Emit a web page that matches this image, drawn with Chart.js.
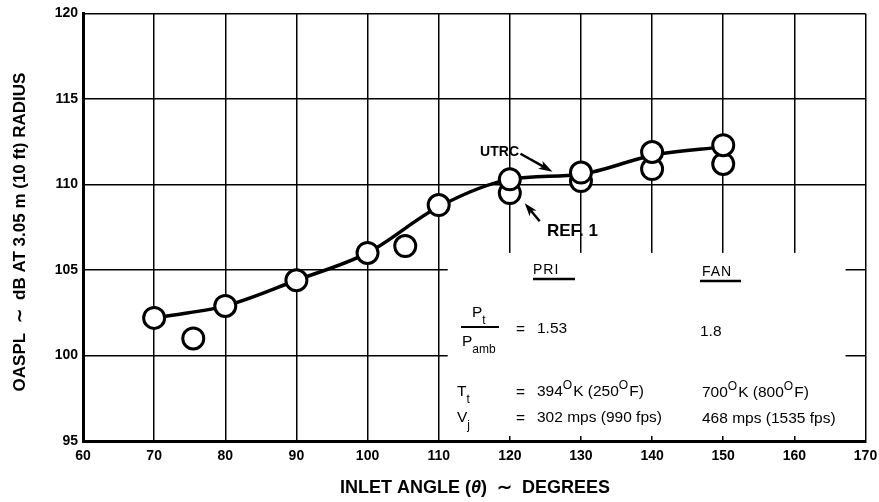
<!DOCTYPE html>
<html>
<head>
<meta charset="utf-8">
<script src="https://cdn.jsdelivr.net/npm/chart.js@4.4.1/dist/chart.umd.min.js"></script>
<style>
html, body { margin: 0; padding: 0; background: #fff; }
canvas { display: block; }
</style>
</head>
<body>
<canvas id="grafico" width="879" height="502"></canvas>
<script>
// curva trazada a mano por los puntos
const curvaAngulos = [70, 80, 90, 100, 110, 120, 130, 140, 150];
const curvaOaspl = [102.2, 102.9, 104.4, 106.0, 108.7, 110.3, 110.6, 111.7, 112.2];

// puntos UTRC
const utrcAngulos = [70, 80, 90, 100, 110, 120, 130, 140, 150];
const utrcOaspl = [102.2, 102.9, 104.4, 106.0, 108.8, 110.3, 110.7, 111.9, 112.3];

// puntos REF. 1
const refAngulos = [75.5, 105.3, 120, 130, 140, 150];
const refOaspl = [101.0, 106.4, 109.5, 110.2, 110.9, 111.2];

const xMin = 60, xMax = 170, xPaso = 10;
const yMin = 95, yMax = 120, yPaso = 5;

const FUENTE = '"Liberation Sans", Arial, Helvetica, sans-serif';

function puntos(xs, ys) {
    return xs.map((v, i) => ({ x: v, y: ys[i] }));
}

// texto con subindices y superindices
function textoRico(ctx, partes, x, y, tam) {
    let cx = x;
    partes.forEach(([t, modo]) => {
        const size = modo ? Math.round(tam * 0.8) : tam;
        ctx.font = `${size}px ${FUENTE}`;
        let dy = 0;
        if (modo === 'sub') dy = tam * 0.5;
        if (modo === 'sup') dy = -tam * 0.42;
        ctx.fillText(t, cx, y + dy);
        cx += ctx.measureText(t).width + (modo ? 1 : 0);
    });
}

function flecha(ctx, x0, y0, x1, y1, grosor, largo, ancho) {
    const ang = Math.atan2(y1 - y0, x1 - x0);
    const c = Math.cos(ang), s = Math.sin(ang);
    ctx.lineWidth = grosor;
    ctx.beginPath();
    ctx.moveTo(x0, y0);
    ctx.lineTo(x1 - c * largo * 0.7, y1 - s * largo * 0.7);
    ctx.stroke();
    ctx.beginPath();
    ctx.moveTo(x1, y1);
    ctx.lineTo(x1 - largo * c + ancho / 2 * s, y1 - largo * s - ancho / 2 * c);
    ctx.lineTo(x1 - largo * c * 0.75, y1 - largo * s * 0.75);
    ctx.lineTo(x1 - largo * c - ancho / 2 * s, y1 - largo * s + ancho / 2 * c);
    ctx.closePath();
    ctx.fill();
}

function sinRelleno(scale) {
    scale.paddingLeft = 0;
    scale.paddingRight = 0;
    scale.paddingTop = 0;
    scale.paddingBottom = 0;
}

const recuadro = {
    id: 'recuadro',
    beforeDatasetsDraw(chart) {
        const { ctx, scales: { x, y } } = chart;
        const izq = x.getPixelForValue(110) + 9;
        const der = x.getPixelForValue(167.2);
        const arriba = y.getPixelForValue(106.0);
        const abajo = y.getPixelForValue(95) - 5;
        ctx.save();
        ctx.fillStyle = '#fff';
        ctx.fillRect(izq, arriba, der - izq, abajo - arriba);
        ctx.restore();
    },
    afterDraw(chart) {
        const { ctx, scales: { x, y } } = chart;
        ctx.save();
        ctx.fillStyle = '#000';
        ctx.strokeStyle = '#000';
        ctx.textBaseline = 'middle';
        ctx.textAlign = 'left';

        // titulos de ejes
        const partesX = [['INLET ANGLE (', 'bold'], ['θ', 'italic bold'], [')  ∼  DEGREES', 'bold']];
        let ancho = 0;
        partesX.forEach(([t, f]) => { ctx.font = `${f} 18px ${FUENTE}`; ancho += ctx.measureText(t).width; });
        let cx = 475 - ancho / 2;
        partesX.forEach(([t, f]) => { ctx.font = `${f} 18px ${FUENTE}`; ctx.fillText(t, cx, 488); cx += ctx.measureText(t).width; });

        ctx.save();
        ctx.translate(20, 232);
        ctx.rotate(-Math.PI / 2);
        ctx.textAlign = 'center';
        ctx.font = `bold 17px ${FUENTE}`;
        ctx.fillText('OASPL  ∼  dB AT 3.05 m (10 ft) RADIUS', 0, 0);
        ctx.restore();

        // etiquetas con flechas
        ctx.font = `bold 14px ${FUENTE}`;
        ctx.textAlign = 'right';
        ctx.fillText('UTRC', 519, 152);
        ctx.textAlign = 'left';
        flecha(ctx, x.getPixelForValue(121.5), y.getPixelForValue(111.8), x.getPixelForValue(126.0), y.getPixelForValue(110.75), 2.5, 14, 9);

        ctx.font = `bold 17px ${FUENTE}`;
        ctx.fillText('REF. 1', 547, 231);
        flecha(ctx, x.getPixelForValue(124.2), y.getPixelForValue(107.85), x.getPixelForValue(122.1), y.getPixelForValue(108.9), 2.5, 13, 9);

        // cuadro de condiciones
        ctx.font = `14px ${FUENTE}`;
        ctx.letterSpacing = '1px';
        ctx.fillText('PRI', 533, 270);
        ctx.fillText('FAN', 702, 272);
        ctx.letterSpacing = '0px';
        ctx.lineWidth = 2.5;
        ctx.beginPath();
        ctx.moveTo(533, 279); ctx.lineTo(575, 279);
        ctx.moveTo(700, 281); ctx.lineTo(741, 281);
        ctx.stroke();

        const tam = 15.5;
        textoRico(ctx, [['P', null], ['t', 'sub']], 472, 313, tam);
        ctx.lineWidth = 2;
        ctx.beginPath();
        ctx.moveTo(461, 327); ctx.lineTo(499, 327);
        ctx.stroke();
        textoRico(ctx, [['P', null], ['amb', 'sub']], 462, 342, tam);

        ctx.font = `${tam}px ${FUENTE}`;
        ctx.fillText('=', 516, 330);
        ctx.fillText('1.53', 537, 329);
        ctx.fillText('1.8', 700, 332);

        textoRico(ctx, [['T', null], ['t', 'sub']], 457, 392, tam);
        ctx.font = `${tam}px ${FUENTE}`;
        ctx.fillText('=', 516, 393);
        textoRico(ctx, [['394', null], ['O', 'sup'], ['K (250', null], ['O', 'sup'], ['F)', null]], 537, 392, tam);
        textoRico(ctx, [['700', null], ['O', 'sup'], ['K (800', null], ['O', 'sup'], ['F)', null]], 702, 393, tam);

        textoRico(ctx, [['V', null], ['j', 'sub']], 457, 418, tam);
        ctx.font = `${tam}px ${FUENTE}`;
        ctx.fillText('=', 516, 419);
        ctx.fillText('302 mps (990 fps)', 537, 418);
        ctx.fillText('468 mps (1535 fps)', 702, 419);

        ctx.restore();
    }
};

new Chart(document.getElementById('grafico'), {
    type: 'scatter',
    data: {
        datasets: [
            {
                label: 'UTRC',
                data: puntos(utrcAngulos, utrcOaspl),
                pointRadius: 10.5,
                pointBorderWidth: 3,
                pointBackgroundColor: '#fff',
                pointBorderColor: '#000',
                showLine: false
            },
            {
                label: 'REF. 1',
                data: puntos(refAngulos, refOaspl),
                pointRadius: 10.5,
                pointBorderWidth: 3,
                pointBackgroundColor: '#fff',
                pointBorderColor: '#000',
                showLine: false
            },
            {
                label: 'Curva',
                data: puntos(curvaAngulos, curvaOaspl),
                showLine: true,
                borderColor: '#000',
                borderWidth: 3.5,
                pointRadius: 0,
                cubicInterpolationMode: 'monotone'
            }
        ]
    },
    options: {
        responsive: false,
        animation: false,
        layout: { padding: { left: 0, top: 7, right: 13, bottom: 0 } },
        plugins: { legend: { display: false }, tooltip: { enabled: false } },
        scales: {
            x: {
                type: 'linear',
                min: xMin, max: xMax,
                afterFit(scale) { scale.height = 61; sinRelleno(scale); },
                ticks: { stepSize: xPaso, color: '#000', padding: 7, font: { family: FUENTE, size: 14, weight: 'bold' } },
                grid: { color: '#000', lineWidth: 1.5, drawTicks: false },
                border: { color: '#000', width: 3 }
            },
            y: {
                type: 'linear',
                min: yMin, max: yMax,
                afterFit(scale) { scale.width = 83; sinRelleno(scale); },
                ticks: { stepSize: yPaso, color: '#000', padding: 5, font: { family: FUENTE, size: 14, weight: 'bold' } },
                grid: { color: '#000', lineWidth: 1.5, drawTicks: false },
                border: { color: '#000', width: 3 }
            }
        }
    },
    plugins: [recuadro]
});
</script>
</body>
</html>
